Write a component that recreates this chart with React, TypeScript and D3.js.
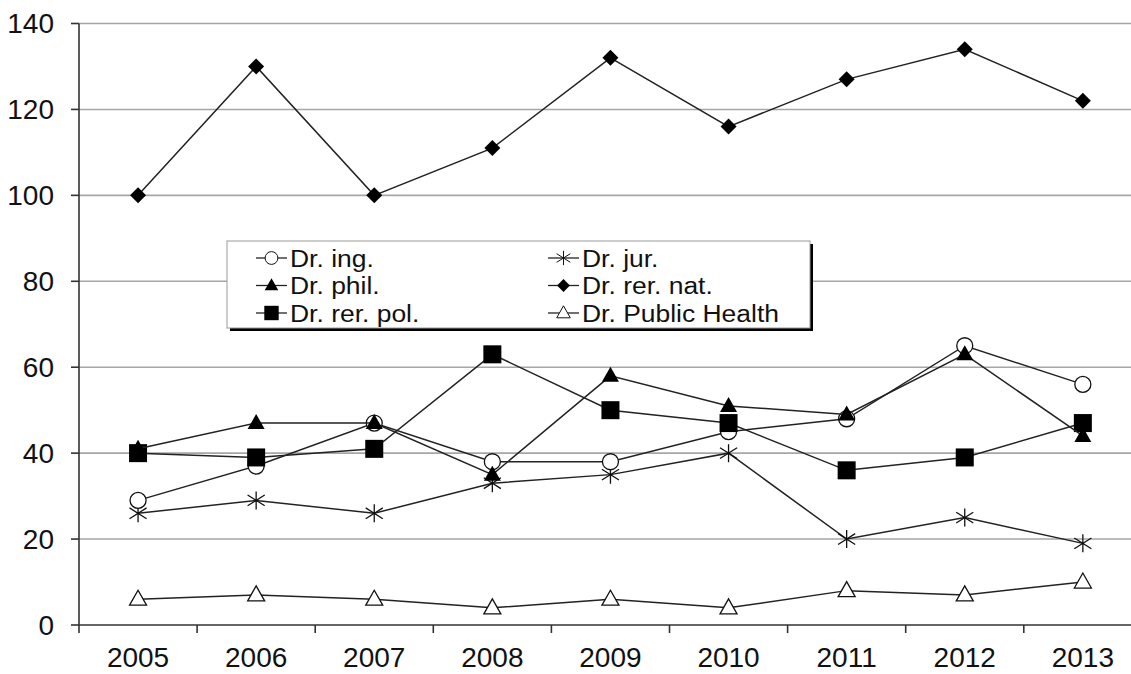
import React from "react";
import * as d3 from "d3";

const years = ["2005", "2006", "2007", "2008", "2009", "2010", "2011", "2012", "2013"];
const drIng = [29, 37, 47, 38, 38, 45, 48, 65, 56];
const drJur = [26, 29, 26, 33, 35, 40, 20, 25, 19];
const drPhil = [41, 47, 47, 35, 58, 51, 49, 63, 44];
const drRerNat = [100, 130, 100, 111, 132, 116, 127, 134, 122];
const drRerPol = [40, 39, 41, 63, 50, 47, 36, 39, 47];
const drPublicHealth = [6, 7, 6, 4, 6, 4, 8, 7, 10];
const yTicks = [0, 20, 40, 60, 80, 100, 120, 140];

type Marker = "circle" | "star" | "triangleFilled" | "diamond" | "square" | "triangleOpen";

const series: { name: string; values: number[]; marker: Marker }[] = [
  { name: "Dr. Public Health", values: drPublicHealth, marker: "triangleOpen" },
  { name: "Dr. jur.", values: drJur, marker: "star" },
  { name: "Dr. ing.", values: drIng, marker: "circle" },
  { name: "Dr. rer. pol.", values: drRerPol, marker: "square" },
  { name: "Dr. phil.", values: drPhil, marker: "triangleFilled" },
  { name: "Dr. rer. nat.", values: drRerNat, marker: "diamond" },
];

const legendOrder = ["Dr. ing.", "Dr. jur.", "Dr. phil.", "Dr. rer. nat.", "Dr. rer. pol.", "Dr. Public Health"];

const W = 1131;
const H = 674;
const FONT = "'Liberation Sans', Arial, sans-serif";

function MarkerShape({ type, x, y, s = 1, sw = 1.3 }: { type: Marker; x: number; y: number; s?: number; sw?: number }) {
  switch (type) {
    case "circle":
      return <circle cx={x} cy={y} r={8 * s} fill="white" stroke="#111" strokeWidth={sw} />;
    case "square":
      return <rect x={x - 9 * s} y={y - 9 * s} width={18 * s} height={18 * s} fill="#000" />;
    case "diamond": {
      const r = 8 * s;
      return <path d={`M${x},${y - r}L${x + r},${y}L${x},${y + r}L${x - r},${y}Z`} fill="#000" />;
    }
    case "triangleFilled":
    case "triangleOpen": {
      const hw = 8.5 * s;
      const h = 15 * s;
      const d = `M${x},${y - h * 0.6}L${x + hw},${y + h * 0.4}L${x - hw},${y + h * 0.4}Z`;
      return type === "triangleFilled" ? (
        <path d={d} fill="#000" />
      ) : (
        <path d={d} fill="white" stroke="#111" strokeWidth={sw} />
      );
    }
    case "star": {
      const r = 9 * s;
      const dx = r * 0.95;
      const dy = r * 0.6;
      return (
        <path
          d={`M${x - dx},${y - dy}L${x + dx},${y + dy}M${x - dx},${y + dy}L${x + dx},${y - dy}M${x},${y - r}L${x},${y + r}`}
          stroke="#111"
          strokeWidth={sw}
          fill="none"
        />
      );
    }
  }
}

export default function App() {
  const x0 = 79;
  const x = d3.scaleBand<string>().domain(years).range([x0, x0 + 9 * 118.1]).padding(0);
  const y = d3.scaleLinear().domain([0, 140]).range([625, 23.5]);
  const cx = (yr: string) => (x(yr) as number) + x.bandwidth() / 2;
  const line = d3
    .line<number>()
    .x((_, i) => cx(years[i]))
    .y((v) => y(v));

  const legX = 227;
  const legY = 241;
  const legW = 583;
  const legH = 87;
  const rowY = [258, 285.5, 313];
  const colX = [256, 548];

  return (
    <svg width={W} height={H} style={{ position: "absolute", left: 0, top: 0, background: "white" }} fontFamily={FONT}>
      <rect width={W} height={H} fill="white" />
      {/* gridlines */}
      {yTicks.filter((t) => t > 0).map((t) => (
        <line key={t} x1={x0} x2={W} y1={y(t)} y2={y(t)} stroke="#a6a6a6" strokeWidth={1.6} />
      ))}
      {/* y axis */}
      <line x1={x0} x2={x0} y1={y(140)} y2={y(0) + 8} stroke="#333" strokeWidth={1.6} />
      {yTicks.map((t) => (
        <g key={t}>
          <line x1={x0 - 8} x2={x0} y1={y(t)} y2={y(t)} stroke="#333" strokeWidth={1.6} />
          <text x={54} y={y(t)} dy="0.35em" textAnchor="end" fontSize={28} fill="#111">
            {t}
          </text>
        </g>
      ))}
      {/* x axis */}
      <line x1={x0} x2={W} y1={y(0)} y2={y(0)} stroke="#333" strokeWidth={1.6} />
      {years.map((yr, i) =>
        i > 0 ? (
          <line key={yr} x1={x(yr) as number} x2={x(yr) as number} y1={y(0)} y2={y(0) + 8} stroke="#333" strokeWidth={1.6} />
        ) : null
      )}
      {years.map((yr) => (
        <text key={yr} x={cx(yr)} y={667} textAnchor="middle" fontSize={28} fill="#111">
          {yr}
        </text>
      ))}
      {/* series */}
      {series.map((s) => (
        <g key={s.name}>
          <path d={line(s.values) || ""} fill="none" stroke="#222" strokeWidth={1.5} />
          {s.values.map((v, i) => (
            <MarkerShape key={i} type={s.marker} x={cx(years[i])} y={y(v)} />
          ))}
        </g>
      ))}
      {/* legend */}
      <rect x={legX + 3} y={legY + 3} width={legW} height={legH} fill="#000" />
      <rect x={legX} y={legY} width={legW} height={legH} fill="white" stroke="#999" strokeWidth={1} />
      {legendOrder.map((name, i) => {
        const s = series.find((d) => d.name === name)!;
        const col = i % 2;
        const row = Math.floor(i / 2);
        const lx = colX[col];
        const ly = rowY[row];
        return (
          <g key={name}>
            <line x1={lx} x2={lx + 31} y1={ly} y2={ly} stroke="#222" strokeWidth={1.3} />
            <MarkerShape type={s.marker} x={lx + 15.5} y={ly} s={0.8} sw={1} />
            <text transform={`translate(${lx + 34},${ly}) scale(1.08,1)`} dy="0.36em" fontSize={24.5} fill="#111">
              {name}
            </text>
          </g>
        );
      })}
    </svg>
  );
}
